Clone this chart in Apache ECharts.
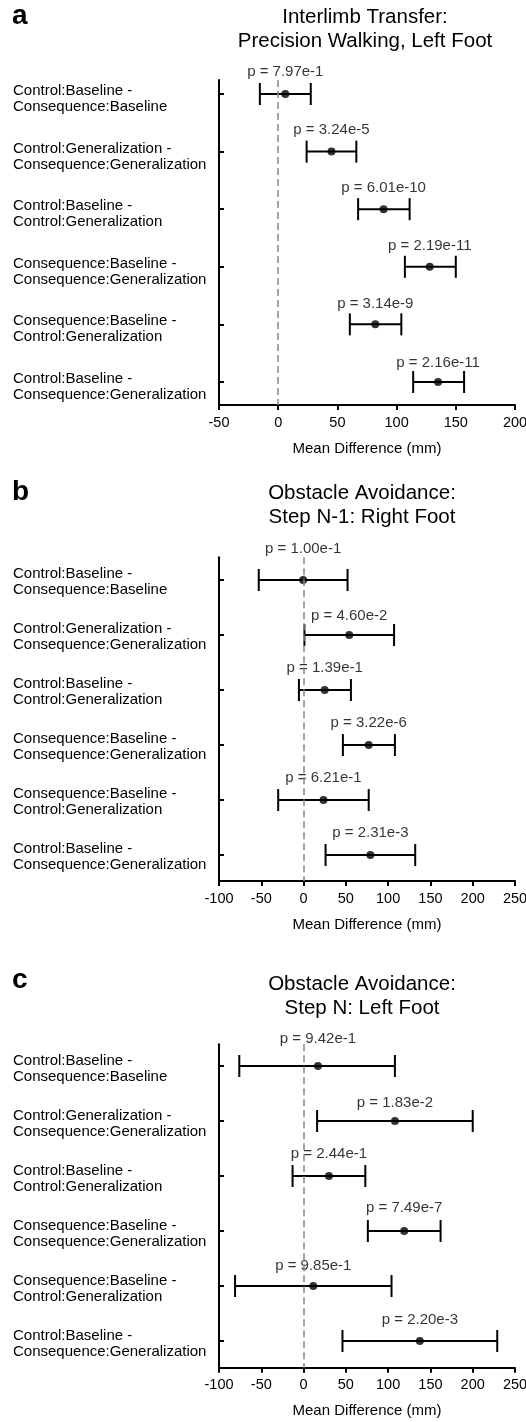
<!DOCTYPE html>
<html>
<head>
<meta charset="utf-8">
<script src="https://cdn.jsdelivr.net/npm/echarts@6/dist/echarts.min.js"></script>
<style>
html,body{margin:0;padding:0;background:#fff;}
#chart{width:526px;height:1422px;}
</style>
</head>
<body>
<div id="chart"></div>
<script>
// ---- data ----
const categories = [
  'Control:Baseline -\nConsequence:Baseline',
  'Control:Generalization -\nConsequence:Generalization',
  'Control:Baseline -\nControl:Generalization',
  'Consequence:Baseline -\nConsequence:Generalization',
  'Consequence:Baseline -\nControl:Generalization',
  'Control:Baseline -\nConsequence:Generalization'
];
const panelLetters = ['a', 'b', 'c'];
const panelTitles = [
  'Interlimb Transfer:\nPrecision Walking, Left Foot',
  'Obstacle Avoidance:\nStep N-1: Right Foot',
  'Obstacle Avoidance:\nStep N: Left Foot'
];
const xTickMin = [-50, -100, -100];
const xTickMax = [200, 250, 250];
const xAxisName = 'Mean Difference (mm)';

// panel a
const meanA = [6, 45, 89, 128, 82, 135];
const lowA  = [-15.5, 24, 67.5, 107, 60.5, 114];
const highA = [27.5, 66, 111, 150, 104, 157];
const pA = ['7.97e-1', '3.24e-5', '6.01e-10', '2.19e-11', '3.14e-9', '2.16e-11'];
// panel b
const meanB = [-0.5, 54, 25, 77, 23.5, 79];
const lowB  = [-53, 1, -5.5, 46.5, -30, 26];
const highB = [52, 107, 56, 108, 77, 132];
const pB = ['1.00e-1', '4.60e-2', '1.39e-1', '3.22e-6', '6.21e-1', '2.31e-3'];
// panel c
const meanC = [17, 108, 30, 119, 11.5, 137.5];
const lowC  = [-76, 16, -13, 76, -81, 46];
const highC = [108, 200, 73, 162, 104, 229];
const pC = ['9.42e-1', '1.83e-2', '2.44e-1', '7.49e-7', '9.85e-1', '2.20e-3'];

const panels = [
  {mean: meanA, low: lowA, high: highA, p: pA},
  {mean: meanB, low: lowB, high: highB, p: pB},
  {mean: meanC, low: lowC, high: highC, p: pC}
];

// ---- layout (styling only) ----
const FONT = '"Liberation Sans", Arial, Helvetica, sans-serif';
const layout = [
  {top: 80,    height: 325,   ymin: -0.243, ymax: 5.40,  titleTop: 5,     titleX: 365, letterBase: 24,  labShift: 0.085,
   pLift: [22, 22, 21, 21, 21, 19]},
  {top: 557.3, height: 323.7, ymin: -0.413, ymax: 5.472, titleTop: 481.2, titleX: 362, letterBase: 500, labShift: 0.035,
   pLift: [31, 19, 22, 22, 22, 22]},
  {top: 1044.3,height: 323.4, ymin: -0.395, ymax: 5.485, titleTop: 972.2, titleX: 362, letterBase: 988, labShift: 0.045,
   pLift: [27, 18, 22, 23, 20, 21]}
];
const idx = categories.map((c, i) => i);

const chart = echarts.init(document.getElementById('chart'), null, {renderer: 'canvas'});

const grid = [], xAxis = [], yAxis = [], series = [], title = [], graphic = [];

layout.forEach((L, k) => {
  const P = panels[k];
  grid.push({left: 219, right: 11, top: L.top, height: L.height, containLabel: false, outerBoundsMode: 'none'});
  xAxis.push({
    type: 'value', gridIndex: k, min: xTickMin[k], max: xTickMax[k], interval: 50,
    name: xAxisName, nameLocation: 'middle', nameGap: 36,
    nameTextStyle: {fontFamily: FONT, fontSize: 15, color: '#000'},
    axisLine: {show: true, onZero: false, lineStyle: {color: '#000', width: 2}},
    axisTick: {show: true, inside: false, length: 5, lineStyle: {color: '#000', width: 2}},
    axisLabel: {fontFamily: FONT, fontSize: 14.5, color: '#000', margin: 10, showMinLabel: true, showMaxLabel: true, hideOverlap: false},
    splitLine: {show: false}
  });
  yAxis.push({
    type: 'value', gridIndex: k, inverse: true, min: L.ymin, max: L.ymax,
    axisLine: {show: true, onZero: false, lineStyle: {color: '#000', width: 2}},
    axisTick: {show: true, inside: true, length: 5, customValues: idx, lineStyle: {color: '#000', width: 2}},
    axisLabel: {
      show: true, customValues: idx.map(i => i + L.labShift), align: 'left', margin: 206,
      fontFamily: FONT, fontSize: 15, lineHeight: 16, color: '#000',
      formatter: v => categories[Math.round(v)] || ''
    },
    splitLine: {show: false}
  });
  title.push({
    text: panelTitles[k], left: L.titleX, top: L.titleTop, textAlign: 'center', padding: 0,
    textStyle: {fontFamily: FONT, fontSize: 20.5, lineHeight: 24, fontWeight: 'normal', color: '#000'}
  });
  graphic.push({
    type: 'text', left: 12, top: L.letterBase - 22,
    style: {text: panelLetters[k], font: 'bold 28px ' + FONT, fill: '#000'}
  });
  // zero reference line
  series.push({
    type: 'line', xAxisIndex: k, yAxisIndex: k, data: [], z: 1, silent: true,
    markLine: {
      silent: true, symbol: ['none', 'none'], label: {show: false},
      lineStyle: {type: [7, 4], color: '#888', width: 1.5},
      data: [{xAxis: 0}]
    }
  });
  // error bars
  series.push({
    type: 'custom', xAxisIndex: k, yAxisIndex: k, z: 3,
    data: idx.map(i => [P.low[i], P.high[i], i]),
    renderItem: function (params, api) {
      const a = api.coord([api.value(0), api.value(2)]);
      const b = api.coord([api.value(1), api.value(2)]);
      const h = 11;
      const st = {stroke: '#000', lineWidth: 2};
      return {type: 'group', children: [
        {type: 'line', shape: {x1: a[0], y1: a[1], x2: b[0], y2: b[1]}, style: st},
        {type: 'line', shape: {x1: a[0], y1: a[1] - h, x2: a[0], y2: a[1] + h}, style: st},
        {type: 'line', shape: {x1: b[0], y1: b[1] - h, x2: b[0], y2: b[1] + h}, style: st}
      ]};
    }
  });
  // mean points + p labels
  series.push({
    type: 'scatter', xAxisIndex: k, yAxisIndex: k, z: 4,
    symbol: 'circle', symbolSize: 8, itemStyle: {color: '#000'},
    data: idx.map(i => ({
      value: [P.mean[i], i],
      label: {offset: [0, -L.pLift[i]]}
    })),
    label: {
      show: true, position: 'inside',
      fontFamily: FONT, fontSize: 15, color: '#000', textBorderWidth: 0,
      formatter: p => 'p = ' + P.p[p.dataIndex]
    }
  });
});

chart.setOption({
  backgroundColor: '#fff',
  animation: false,
  title, grid, xAxis, yAxis, series, graphic
});
</script>
</body>
</html>
